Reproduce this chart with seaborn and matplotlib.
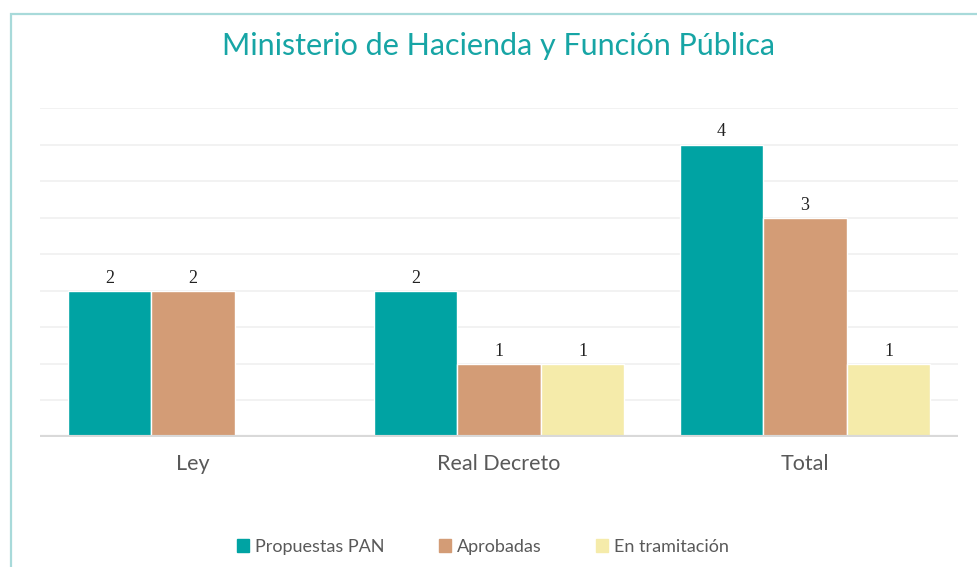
import numpy as np
import pandas as pd
import matplotlib
matplotlib.use("Agg")
import matplotlib.pyplot as plt
from matplotlib.patches import Rectangle
import seaborn as sns

categorias = ["Ley", "Real Decreto", "Total"]
propuestas = [2, 2, 4]
aprobadas = [2, 1, 3]
tramitacion = [0, 1, 1]
series = ["Propuestas PAN", "Aprobadas", "En tramitación"]
colores = ["#00A3A3", "#D39C76", "#F5EBAA"]

df = pd.DataFrame({
    "cat": categorias * 3,
    "serie": [series[0]] * 3 + [series[1]] * 3 + [series[2]] * 3,
    "valor": propuestas + aprobadas + tramitacion,
})

sns.set_style("white")
plt.rcParams["font.family"] = ["Lato", "DejaVu Sans"]

fig = plt.figure(figsize=(9.77, 5.67), dpi=100)
ax = fig.add_axes([40 / 977, 130 / 567, 918 / 977, 329 / 567])

sns.barplot(data=df, x="cat", y="valor", hue="serie", palette=colores,
            width=0.82, saturation=1, ax=ax, legend=False)

for cont in ax.containers:
    vals = cont.datavalues
    labs = ["" if v == 0 else f"{v:g}" for v in vals]
    ax.bar_label(cont, labels=labs, padding=3, fontsize=13,
                 family="Liberation Serif", color="#222222")

ax.set_ylim(0, 4.5)
ax.set_xlim(-0.5, 2.5)
ax.set_yticks(np.arange(0, 4.51, 0.5))
ax.set_yticklabels([])
ax.yaxis.grid(True, color="#F0F0F0", lw=1.2)
ax.set_axisbelow(True)
ax.tick_params(axis="both", length=0)
ax.tick_params(axis="x", labelsize=15.5, labelcolor="#595959", pad=12)
ax.axhline(0, color="#D9D9D9", lw=3, zorder=3)
sns.despine(ax=ax, left=True, bottom=True, top=True, right=True)
ax.set_xlabel("")
ax.set_ylabel("")

fig.text(499 / 977, 1 - 46 / 567, "Ministerio de Hacienda y Función Pública",
         ha="center", va="center", fontsize=22, color="#17A5A5")

handles = [Rectangle((0, 0), 1, 1, color=c) for c in colores]
fig.legend(handles, series, loc="center", bbox_to_anchor=(0.494, 1 - 547 / 567),
           ncol=3, frameon=False, fontsize=13, labelcolor="#595959",
           handlelength=0.7, handleheight=0.7, handletextpad=0.3,
           columnspacing=3.0)

fig.patches.append(Rectangle((11 / 977, -0.1), 1.2, 0.1 + (567 - 14) / 567,
                             transform=fig.transFigure, fill=False,
                             edgecolor="#A8DADA", lw=1.6))

fig.savefig("out.png", dpi=100)
